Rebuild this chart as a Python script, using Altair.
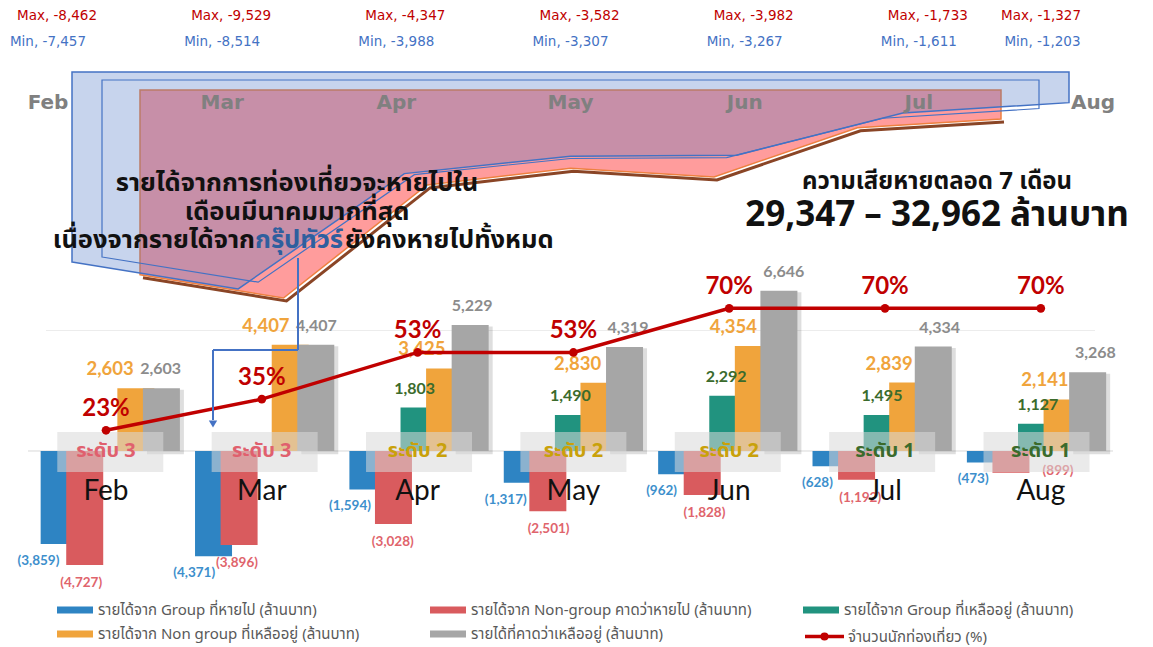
import altair as alt
import pandas as pd

# ---------------- data ----------------
months = ["Feb", "Mar", "Apr", "May", "Jun", "Jul", "Aug"]
loss_max = [8462, 9529, 4347, 3582, 3982, 1733, 1327]
loss_min = [7457, 8514, 3988, 3307, 3267, 1611, 1203]
group_lost = [-3859, -4371, -1594, -1317, -962, -628, -473]
nongroup_lost = [-4727, -3896, -3028, -2501, -1828, -1192, -899]
group_left = [0, 0, 1803, 1490, 2292, 1495, 1127]
nongroup_left = [2603, 4407, 3425, 2830, 4354, 2839, 2141]
total_left = [2603, 4407, 5229, 4319, 6646, 4334, 3268]
tourist_pct = [23, 35, 53, 53, 70, 70, 70]
levels = ["ระดับ 3", "ระดับ 3", "ระดับ 2", "ระดับ 2", "ระดับ 2", "ระดับ 1", "ระดับ 1"]
level_names = ["ระดับ 3", "ระดับ 2", "ระดับ 1"]
series_names = [
    "รายได้จาก Group ที่หายไป (ล้านบาท)",
    "รายได้จาก Non-group คาดว่าหายไป (ล้านบาท)",
    "รายได้จาก Group ที่เหลืออยู่ (ล้านบาท)",
    "รายได้จาก Non group ที่เหลืออยู่ (ล้านบาท)",
    "รายได้ที่คาดว่าเหลืออยู่ (ล้านบาท)",
]
line_name = "จำนวนนักท่องเที่ยว (%)"
note_lines = ["รายได้จากการท่องเที่ยวจะหายไปใน", "เดือนมีนาคมมากที่สุด"]
note_line3 = ["เนื่องจากรายได้จาก", "กรุ๊ปทัวร์", "ยังคงหายไปทั้งหมด"]
summary = ["ความเสียหายตลอด 7 เดือน", "29,347 – 32,962 ล้านบาท"]
grid_values = [5000]

# ---------------- styles ----------------
series_colors = ["#2e84c3", "#d95b5e", "#21937f", "#f0a43c", "#a6a6a6"]
label_colors = ["#3d8fcc", "#e0646c", "#3b6b2c", "#f0a43c", "#8c8c8c"]
level_colors = ["#e0606e", "#c9a10a", "#3b6b2c"]
THAI = "Noto Sans Thai, Noto Sans, DejaVu Sans, sans-serif"
LAT = "Lato, Noto Sans, sans-serif"
WIDE = "DejaVu Sans, sans-serif"
RED = "#c00000"
BLUE = "#4472c4"
SUB = 0.1656  # sub-slot width of a bar inside one month slot

# ---------------- top: loss range areas ----------------
top_df = pd.DataFrame({"i": list(range(7)), "month": months, "mx": loss_max, "mn": loss_min})
top_df["max_label"] = [f"Max, -{v:,}" for v in loss_max]
top_df["min_label"] = [f"Min, -{v:,}" for v in loss_min]


def qx(rng, field="i"):
    return alt.X(f"{field}:Q", scale=alt.Scale(domain=[0, 6], range=rng, nice=False, zero=False), axis=None)


def qy(field, rng):
    return alt.Y(f"{field}:Q", scale=alt.Scale(domain=[0, 10000], range=rng, nice=False, zero=False), axis=None)


base_top = alt.Chart(top_df)
pink_edge = base_top.mark_line(color="#8a4526", strokeWidth=3).encode(
    x=qx([135, 996]), y=qy("mx", [85, 303.3]))
pink = base_top.mark_area(fill="#ff9c9c", stroke="#ee8040", strokeWidth=1.5, opacity=1).encode(
    x=qx([132, 993]), y=qy("mx", [82, 300.3]), y2=alt.datum(0))
blue_back = base_top.mark_area(fill=BLUE, fillOpacity=0.3, stroke=BLUE, strokeWidth=1.5).encode(
    x=qx([64, 1061]), y=qy("mn", [64, 318.8]), y2=alt.datum(0))
blue_front = base_top.mark_area(fillOpacity=0, stroke=BLUE, strokeWidth=1.2).encode(
    x=qx([94, 1031]), y=qy("mn", [72, 309.4]), y2=alt.datum(0))
top_months = base_top.mark_text(font=WIDE, fontWeight="bold", fontSize=20,
                                color="#808080", baseline="middle").encode(
    x=qx([40, 1085]), y=alt.value(95), text="month:N")
max_lab = base_top.transform_calculate(lx="datum.i == 6 ? 5.65 : datum.i").mark_text(
    font=WIDE, fontSize=13.5, color=RED, baseline="middle", dx=9).encode(
    x=qx([40, 1085], "lx"), y=alt.value(7.5), text="max_label:N")
min_lab = base_top.transform_calculate(lx="datum.i == 6 ? 5.71 : datum.i").mark_text(
    font=WIDE, fontSize=13.5, color=BLUE, baseline="middle", dx=0).encode(
    x=qx([40, 1085], "lx"), y=alt.value(34), text="min_label:N")

# ---------------- bars ----------------
rows = []
for si, (s, vals) in enumerate(zip(series_names, [group_lost, nongroup_lost, group_left, nongroup_left, total_left])):
    for mi, (m, v) in enumerate(zip(months, vals)):
        rows.append({"month": m, "mi": mi, "series": s, "si": si, "value": v})
bars_df = pd.DataFrame(rows)
bars_df["label"] = [f"({-v:,})" if v < 0 else f"{v:,}" for v in bars_df["value"]]

XQ = alt.Scale(domain=[-0.5, 6.5], range=[20.1, 1110.7], nice=False, zero=False)
YV = alt.Scale(domain=[-7801, 18382], range=[631, 0], nice=False, zero=False)

xbar = alt.X("pos:Q", scale=XQ, axis=None)
xmon = alt.X("mi:Q", scale=XQ, axis=None)
yb = alt.Y("value:Q", scale=YV, axis=None)

base_bars = alt.Chart(bars_df).transform_calculate(pos=f"datum.mi + (datum.si - 2) * {SUB}")
zero_rule = alt.Chart(pd.DataFrame({"z": [0]})).mark_rule(color="#d9d9d9", strokeWidth=1).encode(
    y=alt.Y("z:Q", scale=YV, axis=None), x=alt.value(20), x2=alt.value(1105))
grid_rule = alt.Chart(pd.DataFrame({"g": grid_values})).mark_rule(color="#ececec", strokeWidth=1).encode(
    y=alt.Y("g:Q", scale=YV, axis=None), x=alt.value(38), x2=alt.value(1087))
shadow = base_bars.transform_filter(alt.datum.si == 4).transform_calculate(
    spos="datum.pos + 0.026", sval="datum.value - 60").mark_bar(
    width=37, color="#000000", opacity=0.13).encode(
    x=alt.X("spos:Q", scale=XQ, axis=None), y=alt.Y("sval:Q", scale=YV, axis=None), y2=alt.datum(-130))
bars = base_bars.mark_bar(width=37).encode(
    x=xbar, y=yb, y2=alt.datum(0),
    color=alt.Color("series:N", scale=alt.Scale(domain=series_names, range=series_colors),
                    legend=alt.Legend(title=None, orient="none", legendX=59, legendY=594, columns=3,
                                      direction="horizontal", gridAlign="all",
                                      symbolType="M-2.25,-0.45H2.25V0.45H-2.25Z", symbolSize=256,
                                      symbolStrokeWidth=0, labelFont=THAI, labelFontSize=15,
                                      labelColor="#595959", labelOffset=15, columnPadding=51,
                                      rowPadding=8, labelLimit=600, padding=0)),
)


def bar_labels(k, cond=None, **kw):
    flt = alt.datum.si == k
    if cond is not None:
        flt = flt & cond
    return base_bars.transform_filter(flt).mark_text(
        font=LAT, fontWeight="bold", color=label_colors[k], baseline="middle", **kw).encode(
        x=xbar, y=yb, text="label:N")


lab_blue = bar_labels(0, dx=-16, dy=17, fontSize=13.5)
lab_red = base_bars.transform_filter(alt.datum.si == 1).transform_calculate(
    lpos="datum.mi == 6 ? datum.pos + 0.27 : datum.pos",
    lval="datum.mi == 6 ? datum.value + 800 : datum.value").mark_text(
    font=LAT, fontWeight="bold", color=label_colors[1], baseline="middle", dx=1, dy=18, fontSize=13.5).encode(
    x=alt.X("lpos:Q", scale=XQ, axis=None), y=alt.Y("lval:Q", scale=YV, axis=None), text="label:N")
lab_teal = bar_labels(2, alt.datum.value > 0, dx=-3, dy=-19, fontSize=16)
lab_orange = bar_labels(3, dx=2, dy=-19, fontSize=18.5, align="right")
lab_gray = bar_labels(4, dx=3, dy=-19, fontSize=16)

lvl_df = pd.DataFrame({"mi": list(range(7)), "month": months, "level": levels,
                       "top": [788] * 7, "bottom": [-871] * 7, "mid": [0] * 7, "lab": [-1700] * 7})
base_lvl = alt.Chart(lvl_df)
boxes = base_lvl.mark_bar(width=106, color="#d9d9d9", opacity=0.55).encode(
    x=xmon, y=alt.Y("top:Q", scale=YV, axis=None), y2="bottom:Q")
lvl_text = base_lvl.mark_text(font=THAI, fontSize=20, fontWeight="bold", baseline="middle").encode(
    x=xmon, y=alt.Y("mid:Q", scale=YV, axis=None), text="level:N",
    fill=alt.Fill("level:N", scale=alt.Scale(domain=level_names, range=level_colors), legend=None))
month_text = base_lvl.mark_text(font=LAT, fontSize=28, color="#111111", baseline="middle").encode(
    x=xmon, y=alt.Y("lab:Q", scale=YV, axis=None), text="month:N")

# ---------------- line ----------------
line_df = pd.DataFrame({"mi": list(range(7)), "month": months, "pct": tourist_pct})
line_df["name"] = line_name
line_df["plabel"] = [f"{v}%" for v in tourist_pct]
PCT = alt.Scale(domain=[-57.4, 185.7], range=[631, 0], nice=False, zero=False)
base_line = alt.Chart(line_df)
yl = alt.Y("pct:Q", scale=PCT, axis=None)
line = base_line.mark_line(strokeWidth=3.5).encode(
    x=xmon, y=yl,
    stroke=alt.Stroke("name:N", scale=alt.Scale(domain=[line_name], range=[RED]),
                      legend=alt.Legend(title=None, orient="none", legendX=795, legendY=607,
                                        symbolType="M-1,0H1M-0.12,0A0.12,0.12,0,1,1,0.12,0A0.12,0.12,0,1,1,-0.12,0",
                                        symbolSize=1521, symbolStrokeWidth=3.5,
                                        labelFont=THAI, labelFontSize=15, labelColor="#595959",
                                        labelOffset=2, padding=0)))
pts = base_line.mark_circle(size=75, color=RED, opacity=1).encode(x=xmon, y=yl)
pct_lab = base_line.mark_text(font=LAT, fontWeight="bold", fontSize=24, color=RED, dy=-21,
                              baseline="middle").encode(x=xmon, y=yl, text="plabel:N")

# ---------------- annotations ----------------
one = alt.Chart(pd.DataFrame({"k": [0]}))
conn1 = one.mark_rule(color=BLUE, strokeWidth=2).encode(x=alt.value(290), y=alt.value(250), y2=alt.value(342))
conn2 = one.mark_rule(color=BLUE, strokeWidth=2).encode(x=alt.value(205), x2=alt.value(290), y=alt.value(342))
conn3 = one.mark_rule(color=BLUE, strokeWidth=2).encode(x=alt.value(205), y=alt.value(342), y2=alt.value(412))
arrow = one.mark_point(shape="triangle-down", filled=True, size=70, color=BLUE, opacity=1).encode(
    x=alt.value(205), y=alt.value(416))


def txt(t, x, y, size, color="#111111", align="center", weight="bold"):
    return alt.Chart(pd.DataFrame({"t": [t]})).mark_text(
        font=THAI, fontSize=size, fontWeight=weight, color=color, align=align, baseline="middle").encode(
        x=alt.value(x), y=alt.value(y), text="t:N")


notes = [
    txt(note_lines[0], 289, 175, 25.5),
    txt(note_lines[1], 289, 204, 25.5),
    txt(note_line3[0], 247, 232, 25.5, align="right"),
    txt(note_line3[1], 247, 232, 25.5, color="#2f5f9e", align="left"),
    txt(note_line3[2], 337, 232, 25.5, align="left"),
    txt(summary[0], 929, 174, 24),
    txt(summary[1], 929, 207, 35),
]

chart = alt.layer(
    pink_edge, pink, blue_back, blue_front, top_months, max_lab, min_lab,
    zero_rule, grid_rule, shadow, bars, lab_blue, lab_red, lab_teal, lab_orange, lab_gray,
    boxes, lvl_text, month_text,
    line, pts, pct_lab,
    conn1, conn2, conn3, arrow, *notes,
).resolve_scale(x="independent", y="independent").properties(
    width=1137, height=639, padding=0, autosize=alt.AutoSizeParams(type="none"),
    background="white",
).configure_view(stroke=None)

chart.save("out.html", embed_options={"renderer": "svg", "actions": False})
